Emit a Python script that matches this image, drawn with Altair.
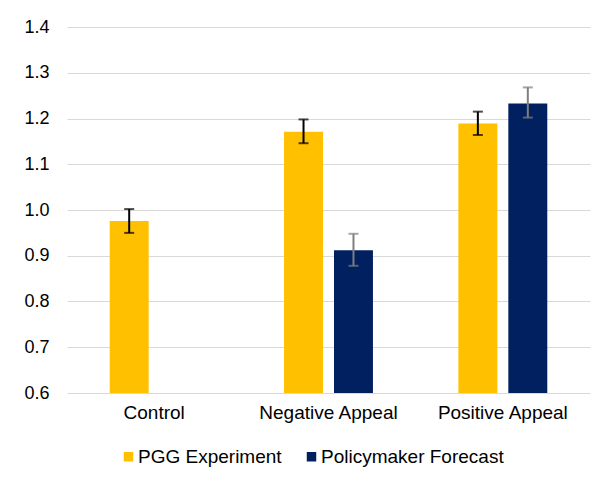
import altair as alt
import pandas as pd

categories = ["Control", "Negative Appeal", "Positive Appeal"]
series_names = ["PGG Experiment", "Policymaker Forecast"]

bar_cat = ["Control", "Negative Appeal", "Negative Appeal", "Positive Appeal", "Positive Appeal"]
bar_series = ["PGG Experiment", "PGG Experiment", "Policymaker Forecast", "PGG Experiment", "Policymaker Forecast"]
bar_value = [0.976, 1.171, 0.912, 1.189, 1.233]
err_low = [0.950, 1.146, 0.878, 1.164, 1.202]
err_high = [1.002, 1.198, 0.948, 1.215, 1.268]

y_ticks = [0.6, 0.7, 0.8, 0.9, 1.0, 1.1, 1.2, 1.3, 1.4]

bar_colors = ["#FFC000", "#002060"]
err_colors = ["#000000", "#7F7F7F"]

df = pd.DataFrame({
    "category": bar_cat,
    "series": bar_series,
    "value": bar_value,
    "low": err_low,
    "high": err_high,
})

FONT = "Liberation Sans"

x = alt.X("category:N", sort=categories, title=None,
          scale=alt.Scale(domain=categories, paddingInner=0.49, paddingOuter=0.245),
          axis=alt.Axis(labelAngle=0, ticks=False, domain=False, grid=False, labelPadding=10,
                        labelFontSize=19, labelFont=FONT, labelColor="#000000"))
xo = alt.XOffset("series:N", sort=series_names,
                 scale=alt.Scale(domain=series_names, paddingInner=0.22, paddingOuter=0))
y = alt.Y("value:Q", title=None,
          scale=alt.Scale(domain=[0.6, 1.4], nice=False, zero=False),
          axis=alt.Axis(values=y_ticks, format=".1f", ticks=False, domain=False,
                        labelPadding=18, labelFontSize=18, labelFont=FONT,
                        labelColor="#000000", gridColor="#D9D9D9", gridWidth=1))

bars = alt.Chart(df).mark_bar(clip=True).encode(
    x=x, xOffset=xo, y=y,
    color=alt.Color("series:N", sort=series_names, title=None,
                    scale=alt.Scale(domain=series_names, range=bar_colors),
                    legend=alt.Legend(orient="none", legendX=52, legendY=420,
                                      direction="horizontal", symbolType="square",
                                      symbolSize=90, symbolStrokeWidth=0,
                                      labelFontSize=19, labelFont=FONT, labelLimit=0,
                                      labelColor="#000000", columnPadding=20,
                                      labelOffset=0)),
)

err_color = alt.Color("series:N", sort=series_names,
                      scale=alt.Scale(domain=series_names, range=err_colors), legend=None)

rules = alt.Chart(df).mark_rule(strokeWidth=2).encode(
    x=x, xOffset=xo, y=alt.Y("low:Q"), y2="high:Q", color=err_color)
cap_hi = alt.Chart(df).mark_tick(thickness=2, size=10).encode(
    x=x, xOffset=xo, y=alt.Y("high:Q"), color=err_color)
cap_lo = alt.Chart(df).mark_tick(thickness=2, size=10).encode(
    x=x, xOffset=xo, y=alt.Y("low:Q"), color=err_color)

errs = alt.layer(rules, cap_hi, cap_lo)

chart = alt.layer(bars, errs).resolve_scale(color="independent").properties(
    width=523, height=366,
    autosize=alt.AutoSizeParams(type="none"),
    padding={"left": 59, "top": 19, "right": 6, "bottom": 80},
    view=alt.ViewBackground(stroke="transparent", strokeWidth=0, strokeOpacity=0),
).configure_view(stroke="transparent", strokeWidth=0, strokeOpacity=0).configure_axis(
    domain=False, grid=False
).configure_axisY(grid=True).configure(background="#FFFFFF")

chart.save("out.html", embed_options={"renderer": "svg", "actions": False})
